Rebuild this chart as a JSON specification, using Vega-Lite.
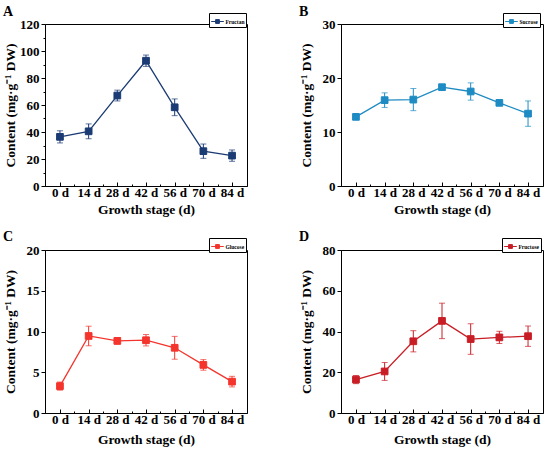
{
  "$schema": "https://vega.github.io/schema/vega-lite/v6.json",
  "padding": {"left": 2, "top": 4, "right": 5, "bottom": 5},
  "datasets": {
    "A": [
      {"day": 0, "value": 36.4, "lo": 31.9, "hi": 40.9, "series": "Fructan"},
      {"day": 14, "value": 40.5, "lo": 35.0, "hi": 46.0, "series": "Fructan"},
      {"day": 28, "value": 67.0, "lo": 63.0, "hi": 71.0, "series": "Fructan"},
      {"day": 42, "value": 92.8, "lo": 88.6, "hi": 97.0, "series": "Fructan"},
      {"day": 56, "value": 58.3, "lo": 52.1, "hi": 64.5, "series": "Fructan"},
      {"day": 70, "value": 25.8, "lo": 20.5, "hi": 31.1, "series": "Fructan"},
      {"day": 84, "value": 22.5, "lo": 18.3, "hi": 26.7, "series": "Fructan"}
    ],
    "B": [
      {"day": 0, "value": 12.8, "lo": 12.4, "hi": 13.2, "series": "Sucrose"},
      {"day": 14, "value": 15.9, "lo": 14.55, "hi": 17.25, "series": "Sucrose"},
      {"day": 28, "value": 16.0, "lo": 13.95, "hi": 18.05, "series": "Sucrose"},
      {"day": 42, "value": 18.3, "lo": 18.0, "hi": 18.6, "series": "Sucrose"},
      {"day": 56, "value": 17.5, "lo": 15.9, "hi": 19.1, "series": "Sucrose"},
      {"day": 70, "value": 15.4, "lo": 15.0, "hi": 15.8, "series": "Sucrose"},
      {"day": 84, "value": 13.4, "lo": 11.05, "hi": 15.75, "series": "Sucrose"}
    ],
    "C": [
      {"day": 0, "value": 3.3, "lo": 2.8, "hi": 3.8, "series": "Glucose"},
      {"day": 14, "value": 9.45, "lo": 8.25, "hi": 10.65, "series": "Glucose"},
      {"day": 28, "value": 8.85, "lo": 8.45, "hi": 9.25, "series": "Glucose"},
      {"day": 42, "value": 8.93, "lo": 8.23, "hi": 9.63, "series": "Glucose"},
      {"day": 56, "value": 8.0, "lo": 6.6, "hi": 9.4, "series": "Glucose"},
      {"day": 70, "value": 5.9, "lo": 5.25, "hi": 6.55, "series": "Glucose"},
      {"day": 84, "value": 3.85, "lo": 3.2, "hi": 4.5, "series": "Glucose"}
    ],
    "D": [
      {"day": 0, "value": 16.4, "lo": 14.4, "hi": 18.4, "series": "Fructose"},
      {"day": 14, "value": 20.4, "lo": 16.0, "hi": 24.8, "series": "Fructose"},
      {"day": 28, "value": 35.2, "lo": 30.0, "hi": 40.4, "series": "Fructose"},
      {"day": 42, "value": 45.2, "lo": 36.5, "hi": 53.9, "series": "Fructose"},
      {"day": 56, "value": 36.3, "lo": 28.8, "hi": 43.8, "series": "Fructose"},
      {"day": 70, "value": 37.1, "lo": 34.1, "hi": 40.1, "series": "Fructose"},
      {"day": 84, "value": 37.7, "lo": 32.7, "hi": 42.7, "series": "Fructose"}
    ]
  },
  "columns": 2,
  "spacing": {"row": 64, "column": 94},
  "bounds": "flush",
  "resolve": {"scale": {"x": "independent", "y": "independent", "color": "independent"}, "legend": {"color": "independent"}},
  "concat": [
    {
      "width": 202, "height": 162,
      "title": {"text": "A"},
      "data": {"name": "A"},
      "encoding": {
        "x": {"field": "day", "type": "quantitative", "title": "Growth stage (d)", "scale": {"domain": [-7.3, 91.3], "nice": false, "zero": false},
              "axis": {"values": [0, 7, 14, 21, 28, 35, 42, 49, 56, 63, 70, 77, 84], "labelExpr": "datum.value % 14 == 0 ? datum.value + ' d' : ''", "tickSize": {"expr": "datum.value % 14 == 0 ? -4 : -2"}}}
      },
      "layer": [
        {"mark": {"type": "rule", "color": "#1b3b74", "strokeWidth": 1},
         "encoding": {"y": {"field": "lo", "type": "quantitative", "title": "Content (mg·g⁻¹ DW)", "scale": {"domain": [0, 120], "nice": false},
                            "axis": {"values": [0, 10, 20, 30, 40, 50, 60, 70, 80, 90, 100, 110, 120], "labelOverlap": false, "labelExpr": "datum.value % 20 == 0 ? datum.label : ''", "tickSize": {"expr": "datum.value % 20 == 0 ? 4 : 2"}}},
                      "y2": {"field": "hi"}}},
        {"mark": {"type": "tick", "orient": "horizontal", "color": "#1b3b74", "size": 6, "thickness": 1},
         "encoding": {"y": {"field": "lo", "type": "quantitative", "title": "Content (mg·g⁻¹ DW)", "axis": {"values": [0, 10, 20, 30, 40, 50, 60, 70, 80, 90, 100, 110, 120], "labelOverlap": false, "labelExpr": "datum.value % 20 == 0 ? datum.label : ''", "tickSize": {"expr": "datum.value % 20 == 0 ? 4 : 2"}}}}},
        {"mark": {"type": "tick", "orient": "horizontal", "color": "#1b3b74", "size": 6, "thickness": 1},
         "encoding": {"y": {"field": "hi", "type": "quantitative", "title": "Content (mg·g⁻¹ DW)", "axis": {"values": [0, 10, 20, 30, 40, 50, 60, 70, 80, 90, 100, 110, 120], "labelOverlap": false, "labelExpr": "datum.value % 20 == 0 ? datum.label : ''", "tickSize": {"expr": "datum.value % 20 == 0 ? 4 : 2"}}}}},
        {"mark": {"type": "line", "color": "#1b3b74", "strokeWidth": 1.3},
         "encoding": {"y": {"field": "value", "type": "quantitative", "title": "Content (mg·g⁻¹ DW)", "axis": {"values": [0, 10, 20, 30, 40, 50, 60, 70, 80, 90, 100, 110, 120], "labelOverlap": false, "labelExpr": "datum.value % 20 == 0 ? datum.label : ''", "tickSize": {"expr": "datum.value % 20 == 0 ? 4 : 2"}}}}},
        {"mark": {"type": "square", "filled": true, "opacity": 1, "size": 45, "stroke": "#1b3b74", "strokeWidth": 1},
         "encoding": {"y": {"field": "value", "type": "quantitative", "title": "Content (mg·g⁻¹ DW)", "axis": {"values": [0, 10, 20, 30, 40, 50, 60, 70, 80, 90, 100, 110, 120], "labelOverlap": false, "labelExpr": "datum.value % 20 == 0 ? datum.label : ''", "tickSize": {"expr": "datum.value % 20 == 0 ? 4 : 2"}}},
                      "color": {"field": "series", "type": "nominal", "scale": {"range": ["#1b3b74"]}, "legend": {"title": null, "legendX": 164, "legendY": -11}}}}
      ]
    },
    {
      "width": 202, "height": 162,
      "title": {"text": "B"},
      "data": {"name": "B"},
      "encoding": {
        "x": {"field": "day", "type": "quantitative", "title": "Growth stage (d)", "scale": {"domain": [-7.3, 91.3], "nice": false, "zero": false},
              "axis": {"values": [0, 7, 14, 21, 28, 35, 42, 49, 56, 63, 70, 77, 84], "labelExpr": "datum.value % 14 == 0 ? datum.value + ' d' : ''", "tickSize": {"expr": "datum.value % 14 == 0 ? -4 : -2"}}}
      },
      "layer": [
        {"mark": {"type": "rule", "color": "#1e8bc3", "strokeWidth": 1},
         "encoding": {"y": {"field": "lo", "type": "quantitative", "title": "Content (mg·g⁻¹ DW)", "scale": {"domain": [0, 30], "nice": false},
                            "axis": {"values": [0, 5, 10, 15, 20, 25, 30], "labelExpr": "datum.value % 10 == 0 ? datum.label : ''", "tickSize": {"expr": "datum.value % 10 == 0 ? 4 : 2"}}},
                      "y2": {"field": "hi"}}},
        {"mark": {"type": "tick", "orient": "horizontal", "color": "#1e8bc3", "size": 6, "thickness": 1}, "encoding": {"y": {"field": "lo", "type": "quantitative"}}},
        {"mark": {"type": "tick", "orient": "horizontal", "color": "#1e8bc3", "size": 6, "thickness": 1}, "encoding": {"y": {"field": "hi", "type": "quantitative"}}},
        {"mark": {"type": "line", "color": "#1e8bc3", "strokeWidth": 1.3}, "encoding": {"y": {"field": "value", "type": "quantitative"}}},
        {"mark": {"type": "square", "filled": true, "opacity": 1, "size": 45, "stroke": "#1e8bc3", "strokeWidth": 1},
         "encoding": {"y": {"field": "value", "type": "quantitative"},
                      "color": {"field": "series", "type": "nominal", "scale": {"range": ["#1e8bc3"]}, "legend": {"title": null, "legendX": 162, "legendY": -11}}}}
      ]
    },
    {
      "width": 202, "height": 163,
      "title": {"text": "C"},
      "data": {"name": "C"},
      "encoding": {
        "x": {"field": "day", "type": "quantitative", "title": "Growth stage (d)", "scale": {"domain": [-7.3, 91.3], "nice": false, "zero": false},
              "axis": {"values": [0, 7, 14, 21, 28, 35, 42, 49, 56, 63, 70, 77, 84], "labelExpr": "datum.value % 14 == 0 ? datum.value + ' d' : ''", "tickSize": {"expr": "datum.value % 14 == 0 ? -4 : -2"}, "titlePadding": 6}}
      },
      "layer": [
        {"mark": {"type": "rule", "color": "#f4352d", "strokeWidth": 1},
         "encoding": {"y": {"field": "lo", "type": "quantitative", "title": "Content (mg·g⁻¹ DW)", "scale": {"domain": [0, 20], "nice": false},
                            "axis": {"values": [0, 2.5, 5, 7.5, 10, 12.5, 15, 17.5, 20], "labelExpr": "datum.value % 5 == 0 ? datum.label : ''", "tickSize": {"expr": "datum.value % 5 == 0 ? 4 : 2"}}},
                      "y2": {"field": "hi"}}},
        {"mark": {"type": "tick", "orient": "horizontal", "color": "#f4352d", "size": 6, "thickness": 1}, "encoding": {"y": {"field": "lo", "type": "quantitative"}}},
        {"mark": {"type": "tick", "orient": "horizontal", "color": "#f4352d", "size": 6, "thickness": 1}, "encoding": {"y": {"field": "hi", "type": "quantitative"}}},
        {"mark": {"type": "line", "color": "#f4352d", "strokeWidth": 1.3}, "encoding": {"y": {"field": "value", "type": "quantitative"}}},
        {"mark": {"type": "square", "filled": true, "opacity": 1, "size": 45, "stroke": "#f4352d", "strokeWidth": 1},
         "encoding": {"y": {"field": "value", "type": "quantitative"},
                      "color": {"field": "series", "type": "nominal", "scale": {"range": ["#f4352d"]}, "legend": {"title": null, "legendX": 164, "legendY": -12}}}}
      ]
    },
    {
      "width": 202, "height": 163,
      "title": {"text": "D"},
      "data": {"name": "D"},
      "encoding": {
        "x": {"field": "day", "type": "quantitative", "title": "Growth stage (d)", "scale": {"domain": [-7.3, 91.3], "nice": false, "zero": false},
              "axis": {"values": [0, 7, 14, 21, 28, 35, 42, 49, 56, 63, 70, 77, 84], "labelExpr": "datum.value % 14 == 0 ? datum.value + ' d' : ''", "tickSize": {"expr": "datum.value % 14 == 0 ? -4 : -2"}, "titlePadding": 6}}
      },
      "layer": [
        {"mark": {"type": "rule", "color": "#c91d25", "strokeWidth": 1},
         "encoding": {"y": {"field": "lo", "type": "quantitative", "title": "Content (mg·g⁻¹ DW)", "scale": {"domain": [0, 80], "nice": false},
                            "axis": {"values": [0, 10, 20, 30, 40, 50, 60, 70, 80], "labelExpr": "datum.value % 20 == 0 ? datum.label : ''", "tickSize": {"expr": "datum.value % 20 == 0 ? 4 : 2"}}},
                      "y2": {"field": "hi"}}},
        {"mark": {"type": "tick", "orient": "horizontal", "color": "#c91d25", "size": 6, "thickness": 1}, "encoding": {"y": {"field": "lo", "type": "quantitative"}}},
        {"mark": {"type": "tick", "orient": "horizontal", "color": "#c91d25", "size": 6, "thickness": 1}, "encoding": {"y": {"field": "hi", "type": "quantitative"}}},
        {"mark": {"type": "line", "color": "#c91d25", "strokeWidth": 1.3}, "encoding": {"y": {"field": "value", "type": "quantitative"}}},
        {"mark": {"type": "square", "filled": true, "opacity": 1, "size": 45, "stroke": "#c91d25", "strokeWidth": 1},
         "encoding": {"y": {"field": "value", "type": "quantitative"},
                      "color": {"field": "series", "type": "nominal", "scale": {"range": ["#c91d25"]}, "legend": {"title": null, "legendX": 161, "legendY": -12}}}}
      ]
    }
  ],
  "config": {
    "font": "Liberation Serif",
    "view": {"stroke": "black", "strokeWidth": 1},
    "axis": {"grid": false, "domainColor": "black", "tickColor": "black", "labelColor": "black", "titleColor": "black",
             "labelFont": "Liberation Serif", "titleFont": "Liberation Serif", "labelFontWeight": "bold", "titleFontWeight": "bold",
             "labelFontSize": 13, "titleFontSize": 13.5, "labelPadding": 2, "domainWidth": 1, "tickWidth": 1, "tickSize": 4},
    "axisY": {"minExtent": 26, "maxExtent": 26, "titlePadding": 2, "labelOverlap": false},
    "axisX": {"labelAngle": 0, "titlePadding": 3, "labelPadding": 4},
    "legend": {"orient": "none", "strokeColor": "black", "fillColor": "white", "padding": 1.5, "labelFont": "Liberation Serif", "labelFontWeight": "bold",
               "labelFontSize": 5.5, "labelColor": "black", "labelOffset": 1, "symbolType": "M-1,0L1,0M-0.3,-0.3L0.3,-0.3L0.3,0.3L-0.3,0.3Z",
               "symbolSize": 160, "symbolStrokeWidth": 1, "rowPadding": 0, "cornerRadius": 0},
    "title": {"font": "Liberation Serif", "fontSize": 14, "fontWeight": "bold", "anchor": "start", "frame": "bounds", "color": "black", "offset": -6}
  }
}
